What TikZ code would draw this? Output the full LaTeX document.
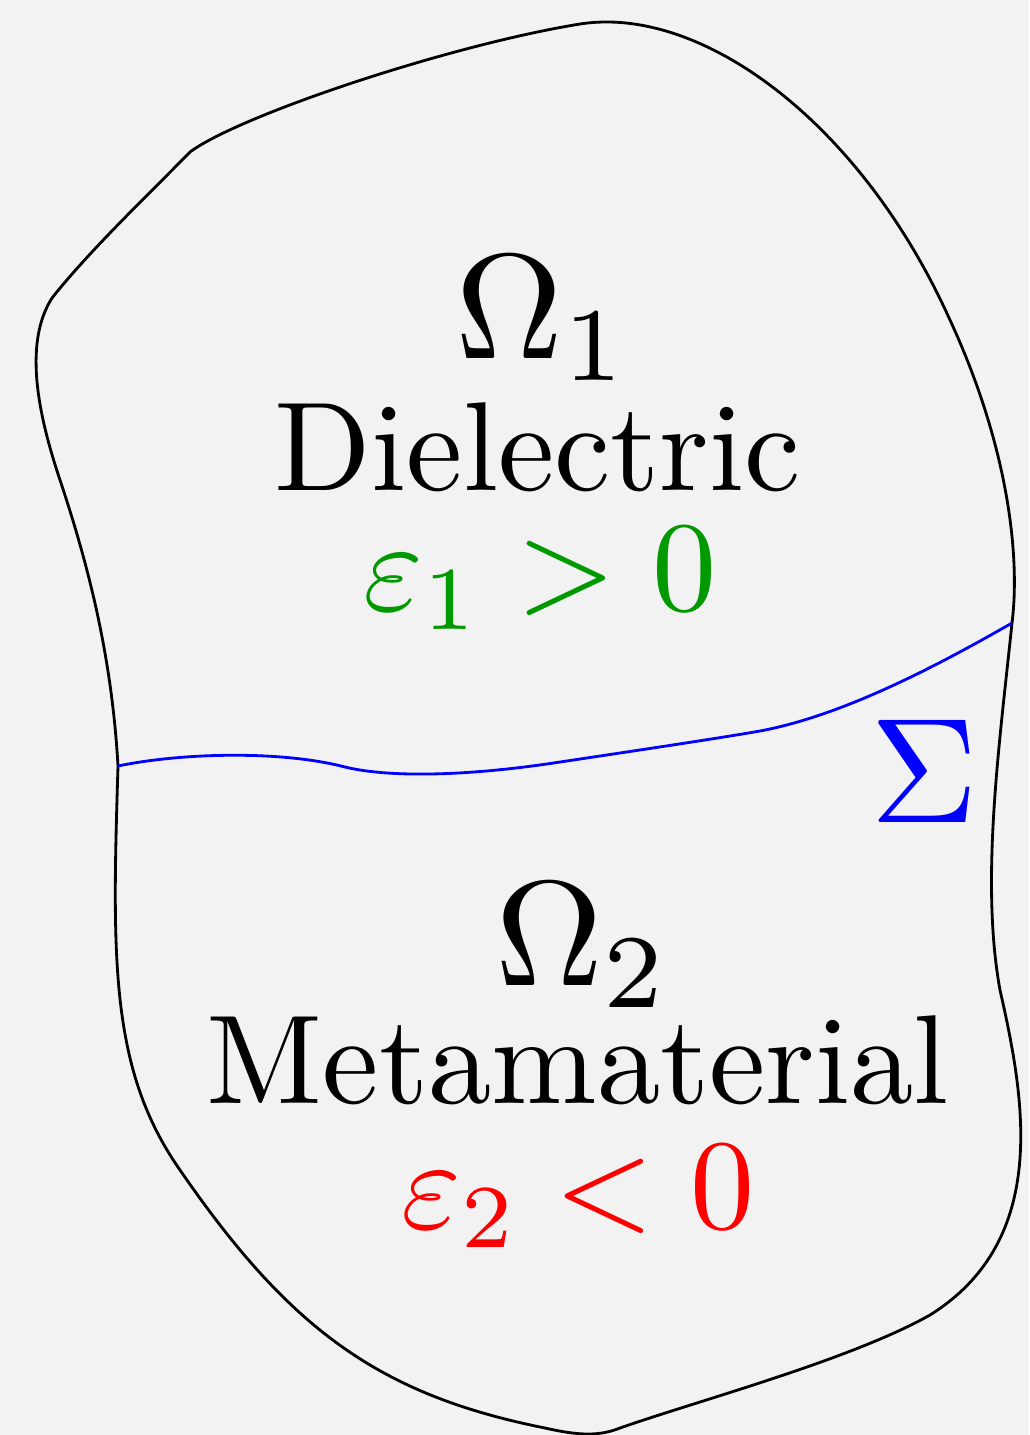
\documentclass[tikz,border=0pt]{standalone}
\usepackage{tikz}
\usepackage{xcolor}
\usetikzlibrary{positioning,calc}
\definecolor{bgcolor}{RGB}{242,242,242}
\definecolor{poscolor}{RGB}{0,153,0}
\definecolor{negcolor}{RGB}{255,0,0}
\definecolor{ifacecolor}{RGB}{0,0,255}

\begin{document}
\begin{tikzpicture}[
    x=0.01cm, y=-0.01cm,
    domainlabel/.style={
        anchor=base, inner sep=0pt,
        font=\normalsize, scale=4.25
    },
    textlabel/.style={
        anchor=base, inner sep=0pt,
        font=\normalsize, scale=3.6
    },
    epslabel/.style={
        anchor=base, inner sep=0pt,
        font=\normalsize, scale=3.65
    },
    boundary/.style={draw=black, line width=0.8pt},
    interface/.style={draw=ifacecolor, line width=0.8pt}
]

% Background
\fill[bgcolor] (0,0) rectangle (1029,1435);
\useasboundingbox (0,0) rectangle (1029,1435);

% Junctions of the interface with the boundary
\coordinate (left_join) at (118,766);
\coordinate (right_join) at (1012,623);

% Outer boundary
\draw[boundary] (left_join)
    .. controls (112,660) and (90,570) .. (60,480)
    .. controls (40,420) and (22,345) .. (52,298)
    .. controls (90,250) and (150,193) .. (190,152)
    .. controls (240,115) and (450,45) .. (580,24)
    .. controls (700,5) and (860,120) .. (950,320)
    .. controls (1010,450) and (1020,560) .. (right_join)
    .. controls (1000,740) and (980,880) .. (1000,990)
    .. controls (1025,1100) and (1050,1240) .. (930,1315)
    .. controls (850,1360) and (700,1400) .. (620,1428)
    .. controls (600,1436) and (580,1436) .. (545,1428)
    .. controls (380,1395) and (290,1330) .. (180,1170)
    .. controls (110,1070) and (112,960) .. (left_join);

% Interface Sigma
\draw[interface] (left_join)
    .. controls (180,753) and (280,750) .. (345,767)
    .. controls (390,778) and (470,776) .. (560,762)
    .. controls (640,750) and (720,738) .. (760,731)
    .. controls (840,716) and (930,670) .. (right_join);
\node[domainlabel, text=ifacecolor] (sigma) at (924,822) {$\Sigma$};

% Upper domain
\node[domainlabel] (omega1) at (543,358) {$\Omega_1$};
\node[textlabel] (diel) at (538,490) {Dielectric};
\node[epslabel, text=poscolor] (eps1) at (540,610) {$\varepsilon_1>0$};

% Lower domain
\node[domainlabel] (omega2) at (583,985) {$\Omega_2$};
\node[textlabel] (meta) at (578,1103) {Metamaterial};
\node[epslabel, text=negcolor] (eps2) at (578,1228) {$\varepsilon_2<0$};

\end{tikzpicture}
\end{document}
